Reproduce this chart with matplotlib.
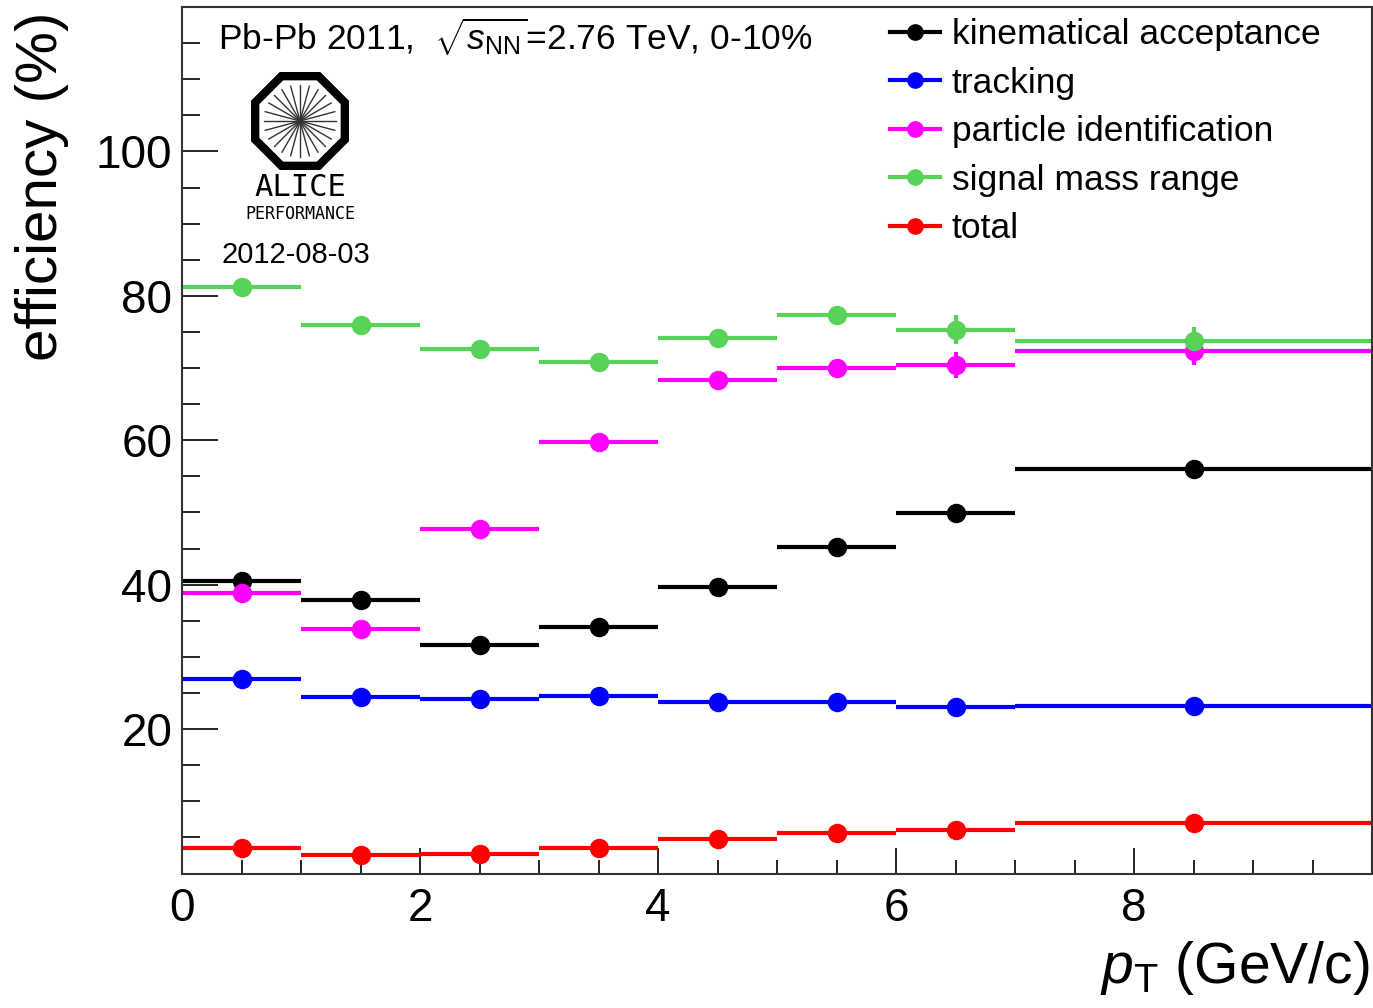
import numpy as np
import matplotlib
matplotlib.use("Agg")
import matplotlib.pyplot as plt
from matplotlib.ticker import MultipleLocator
from matplotlib.patches import RegularPolygon
from matplotlib.lines import Line2D

plt.rcParams['font.family'] = ['Liberation Sans', 'DejaVu Sans']
plt.rcParams['mathtext.fontset'] = 'custom'
plt.rcParams['mathtext.rm'] = 'Liberation Sans'
plt.rcParams['mathtext.it'] = 'Liberation Sans:italic'

# pT bins (GeV/c)
bin_lo = [0, 1, 2, 3, 4, 5, 6, 7]
bin_hi = [1, 2, 3, 4, 5, 6, 7, 10]
bin_mid = [0.5, 1.5, 2.5, 3.5, 4.5, 5.5, 6.5, 8.5]

# efficiencies (%) and stat errors
kin_acc = [40.5, 37.9, 31.6, 34.1, 39.7, 45.2, 49.9, 56.0]
kin_err = [0.2, 0.2, 0.2, 0.3, 0.3, 0.4, 0.5, 0.5]
tracking = [26.9, 24.4, 24.2, 24.6, 23.7, 23.7, 23.0, 23.2]
tracking_err = [0.2, 0.2, 0.2, 0.2, 0.2, 0.3, 0.4, 0.5]
pid = [38.8, 33.8, 47.7, 59.7, 68.4, 70.0, 70.4, 72.3]
pid_err = [0.3, 0.3, 0.4, 0.5, 0.6, 1.0, 1.8, 1.9]
mass_range = [81.2, 75.9, 72.6, 70.9, 74.1, 77.3, 75.3, 73.7]
mass_err = [0.3, 0.4, 0.4, 0.4, 0.5, 1.3, 2.0, 2.0]
total = [3.5, 2.5, 2.7, 3.6, 4.8, 5.6, 6.0, 7.0]
total_err = [0.1, 0.1, 0.1, 0.1, 0.2, 0.2, 0.3, 0.3]

labels = ['kinematical acceptance', 'tracking', 'particle identification',
          'signal mass range', 'total']
colors = ['black', '#0000ff', '#ff00ff', '#57d357', '#ff0000']
series = [kin_acc, tracking, pid, mass_range, total]
errors = [kin_err, tracking_err, pid_err, mass_err, total_err]

W, H = 1373, 1008
fig = plt.figure(figsize=(W / 100, H / 100), dpi=100)
ax = fig.add_axes([182 / W, 1 - 873.5 / H, (1372 - 182) / W, (873.5 - 7) / H])

x = np.array(bin_mid)
xerr = [x - np.array(bin_lo), np.array(bin_hi) - x]
for vals, errs, col in zip(series, errors, colors):
    ax.errorbar(x, vals, xerr=xerr, yerr=errs, fmt='o', color=col, ms=13,
                elinewidth=3, capsize=0)

ax.set_xlim(0, 10)
ax.set_ylim(0, 120)
ax.set_xticks([0, 2, 4, 6, 8])
ax.set_yticks([20, 40, 60, 80, 100])
ax.xaxis.set_minor_locator(MultipleLocator(0.5))
ax.yaxis.set_minor_locator(MultipleLocator(5))
ax.tick_params(axis='x', which='major', direction='in', length=19, width=1.2,
               labelsize=33, pad=10, top=False)
ax.tick_params(axis='x', which='minor', direction='in', length=10, width=1.2, top=False)
ax.tick_params(axis='y', which='major', direction='in', length=26, width=1.2,
               labelsize=33, pad=7, right=False)
ax.tick_params(axis='y', which='minor', direction='in', length=13, width=1.2, right=False)
for s in ax.spines.values():
    s.set_linewidth(1.5)
    s.set_color('#333333')

fig.text(42 / W, 1 - 12 / H, 'efficiency (%)', rotation=90, ha='center', va='top',
         fontsize=42)
fig.text(1370 / W, 1 - 983 / H, r'$p_{\mathrm{T}}$ (GeV/c)', ha='right', va='baseline',
         fontsize=41)

fig.text(218 / W, 1 - 37 / H, r'Pb-Pb 2011,  $\sqrt{s_{\mathrm{NN}}}$=2.76 TeV, 0-10%',
         ha='left', va='center', fontsize=25.5)
fig.text(296 / W, 1 - 255 / H, '2012-08-03', ha='center', va='center', fontsize=21)

handles = [Line2D([], [], color=c, marker='o', ms=11, lw=3) for c in colors]
ax.legend(handles, labels, loc='upper left', bbox_to_anchor=(890 / W, 1 - 18 / H),
          bbox_transform=fig.transFigure, frameon=False, fontsize=25.5,
          handlelength=1.42, handletextpad=0.33, labelspacing=0.44, borderpad=0,
          borderaxespad=0)

# ALICE logo
lax = fig.add_axes([250 / W, 1 - 172 / H, 100 / W, 102 / H])
lax.set_xlim(-1, 1)
lax.set_ylim(-1.02, 1.02)
lax.set_aspect('equal')
lax.axis('off')
lax.add_patch(RegularPolygon((0, 0), 8, radius=0.97, orientation=np.pi / 8,
                             facecolor='white', edgecolor='black', lw=6))
for a in np.linspace(0, np.pi, 13)[:-1]:
    lax.plot([-0.72 * np.cos(a), 0.72 * np.cos(a)], [-0.72 * np.sin(a), 0.72 * np.sin(a)],
             color='#333333', lw=1.0)
fig.text(300 / W, 1 - 187 / H, 'ALICE', ha='center', va='center', fontsize=22,
         family='DejaVu Sans Mono')
fig.text(300 / W, 1 - 214 / H, 'PERFORMANCE', ha='center', va='center', fontsize=12,
         family='DejaVu Sans Mono')

fig.savefig('out.png', dpi=100)
